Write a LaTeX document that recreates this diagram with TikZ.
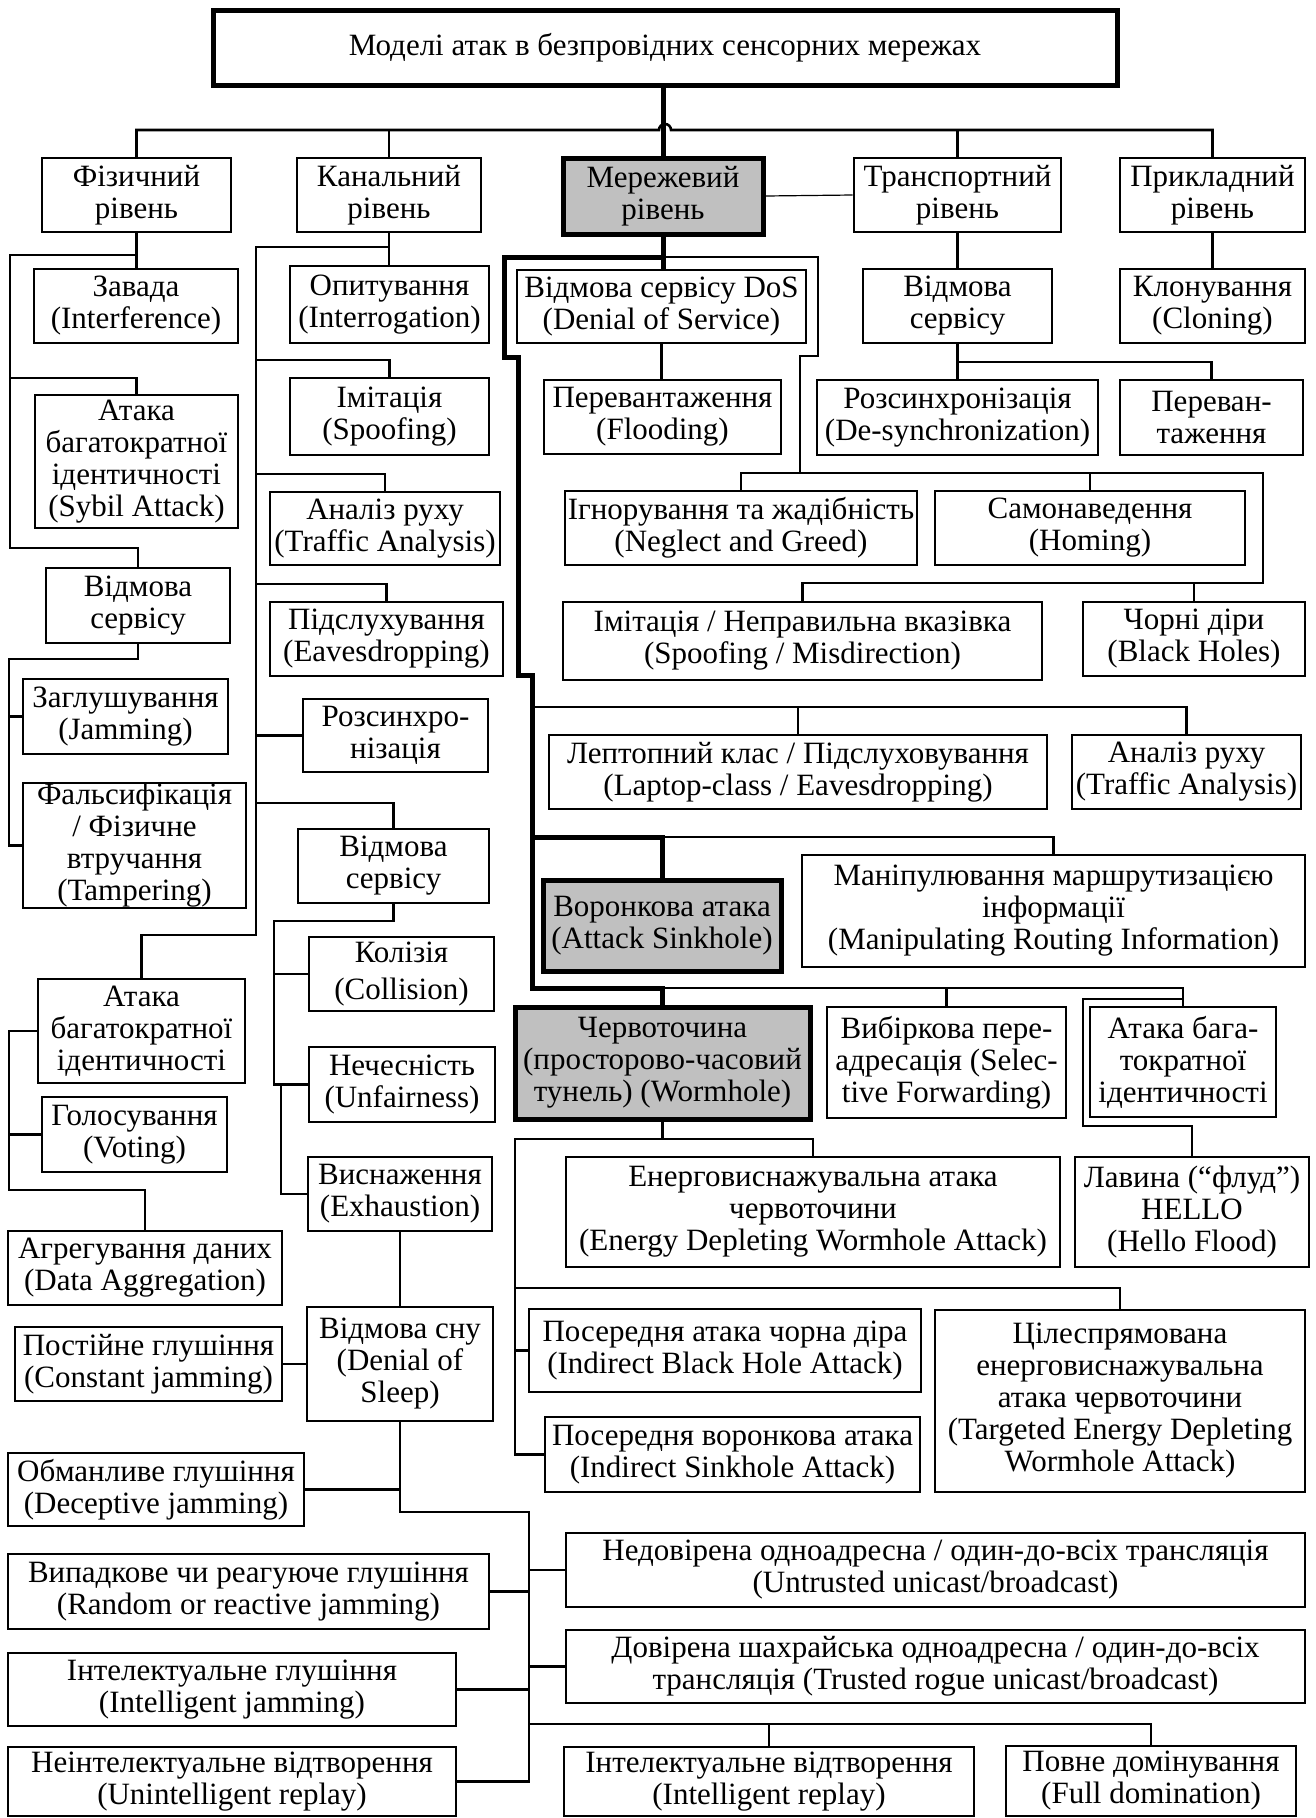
\documentclass[tikz,border=0pt]{standalone}
\usepackage{fontspec}
\setmainfont{Liberation Serif}
\definecolor{keygrey}{RGB}{192,192,192}
% box given by its corners (x1,y1) and (x2,y2); y grows downwards
\newcommand\boxnode[7][]{%
  \node[box,#1,minimum width={#5-#3},minimum height={#6-#4}] (#2) at ({(#3+#5)/2},{(#4+#6)/2}) {#7};}
\begin{document}
\begin{tikzpicture}[x=1pt,y=-1pt,
  box/.style={draw,line width=2.6pt,fill=white,align=center,inner sep=-4pt,
              font=\fontsize{31}{32}\selectfont},
  keybox/.style={line width=5pt,fill=keygrey},
  ln/.style={line width=2.6pt,line cap=rect},
  thk/.style={line width=5pt,line cap=rect},
  hair/.style={line width=1.2pt}]
\fill[white] (0,0) rectangle (1315,1818);
\useasboundingbox (0,0) rectangle (1315,1818);

% ---------- title and levels ----------
\boxnode[line width=5pt]{top}{213}{10}{1117}{85}{Моделі атак в безпровідних сенсорних мережах}
\boxnode{phys}{42}{158}{231}{232}{Фізичний\\рівень}
\boxnode{chan}{297}{158}{481}{232}{Канальний\\рівень}
\boxnode[keybox]{net}{563}{158}{763}{234}{Мережевий\\рівень}
\boxnode{trans}{854}{158}{1061}{232}{Транспортний\\рівень}
\boxnode{appl}{1120}{158}{1305}{232}{Прикладний\\рівень}

% ---------- physical layer ----------
\boxnode{zav}{34}{269}{238}{343}{Завада\\(Interference)}
\boxnode{sybil}{35}{395}{238}{528}{Атака\\багатократної\\ідентичності\\(Sybil Attack)}
\boxnode{physdos}{46}{568}{230}{643}{Відмова\\сервісу}
\boxnode{jam}{23}{679}{228}{754}{Заглушування\\(Jamming)}
\boxnode{tamper}{23}{783}{246}{908}{Фальсифікація\\/ Фізичне\\втручання\\(Tampering)}

% ---------- link layer ----------
\boxnode{interr}{290}{266}{489}{343}{Опитування\\(Interrogation)}
\boxnode{spoof}{290}{378}{489}{455}{Імітація\\(Spoofing)}
\boxnode{ta}{270}{492}{500}{565}{Аналіз руху\\(Traffic Analysis)}
\boxnode{eav}{270}{602}{503}{676}{Підслухування\\(Eavesdropping)}
\boxnode{desync}{303}{699}{488}{772}{Розсинхро-\\нізація}
\boxnode{chandos}{298}{829}{489}{903}{Відмова\\сервісу}
\boxnode{sybil2}{38}{979}{245}{1083}{Атака\\багатократної\\ідентичності}
\boxnode{vote}{42}{1097}{227}{1172}{Голосування\\(Voting)}
\boxnode{agg}{8}{1231}{282}{1305}{Агрегування даних\\(Data Aggregation)}
\boxnode{coll}{309}{937}{494}{1011}{Колізія\\[5pt](Collision)}
\boxnode{unf}{309}{1047}{495}{1122}{Нечесність\\(Unfairness)}
\boxnode{exh}{308}{1157}{492}{1231}{Виснаження\\(Exhaustion)}
\boxnode{dsleep}{307}{1307}{493}{1421}{Відмова сну\\(Denial of\\Sleep)}
\boxnode{const}{15}{1327}{282}{1401}{Постійне глушіння\\(Constant jamming)}
\boxnode{decep}{8}{1453}{304}{1526}{Обманливе глушіння\\(Deceptive jamming)}
\boxnode{rand}{8}{1554}{489}{1629}{Випадкове чи реагуюче глушіння\\(Random or reactive jamming)}
\boxnode{intj}{8}{1653}{456}{1726}{Інтелектуальне глушіння\\(Intelligent jamming)}
\boxnode{unint}{8}{1747}{456}{1816}{Неінтелектуальне відтворення\\(Unintelligent replay)}
\boxnode{untr}{566}{1533}{1305}{1607}{Недовірена одноадресна / один-до-всіх трансляція\\(Untrusted unicast/broadcast)}
\boxnode{trust}{566}{1630}{1305}{1703}{Довірена шахрайська одноадресна / один-до-всіх\\трансляція (Trusted rogue unicast/broadcast)}
\boxnode{intr}{564}{1747}{974}{1816}{Інтелектуальне відтворення\\(Intelligent replay)}
\boxnode{full}{1006}{1746}{1296}{1816}{Повне домінування\\(Full domination)}

% ---------- transport and application layers ----------
\boxnode{tdos}{863}{269}{1052}{343}{Відмова\\сервісу}
\boxnode{desyn2}{817}{380}{1098}{455}{Розсинхронізація\\(De-synchronization)}
\boxnode{over}{1120}{380}{1303}{455}{Переван-\\таження}
\boxnode{clone}{1120}{269}{1305}{343}{Клонування\\(Cloning)}

% ---------- network layer ----------
\boxnode{netdos}{517}{270}{806}{343}{Відмова сервісу DoS\\(Denial of Service)}
\boxnode{flood}{544}{380}{781}{454}{Перевантаження\\(Flooding)}
\boxnode{neg}{565}{491}{917}{565}{Ігнорування та жадібність\\(Neglect and Greed)}
\boxnode{hom}{935}{491}{1245}{565}{Самонаведення\\(Homing)}
\boxnode{misd}{563}{602}{1042}{680}{Імітація / Неправильна вказівка\\(Spoofing / Misdirection)}
\boxnode{bh}{1083}{602}{1305}{676}{Чорні діри\\(Black Holes)}
\boxnode{lap}{549}{735}{1047}{809}{Лептопний клас / Підслуховування\\(Laptop-class / Eavesdropping)}
\boxnode{ta2}{1072}{735}{1301}{809}{Аналіз руху\\(Traffic Analysis)}
\boxnode[keybox]{sink}{543}{880}{781}{971}{Воронкова атака\\(Attack Sinkhole)}
\boxnode{manip}{802}{855}{1305}{967}{Маніпулювання маршрутизацією\\інформації\\(Manipulating Routing Information)}
\boxnode[keybox]{worm}{515}{1007}{810}{1119}{Червоточина\\(просторово-часовий\\тунель) (Wormhole)}
\boxnode{sel}{827}{1007}{1066}{1118}{Вибіркова пере-\\адресація (Selec-\\tive Forwarding)}
\boxnode{mult3}{1090}{1007}{1276}{1117}{Атака бага-\\тократної\\ідентичності}
\boxnode{hello}{1075}{1157}{1309}{1267}{Лавина (“флуд”)\\HELLO\\(Hello Flood)}
\boxnode{edw}{566}{1157}{1060}{1267}{Енерговиснажувальна атака\\червоточини\\(Energy Depleting Wormhole Attack)}
\boxnode{ibh}{529}{1309}{921}{1392}{Посередня атака чорна діра\\(Indirect Black Hole Attack)}
\boxnode{isink}{545}{1417}{920}{1492}{Посередня воронкова атака\\(Indirect Sinkhole Attack)}
\boxnode{tedw}{935}{1310}{1305}{1492}{Цілеспрямована\\енерговиснажувальна\\атака червоточини\\(Targeted Energy Depleting\\Wormhole Attack)}

% ---------- connectors: levels ----------
\draw[ln] (phys.north) |- (659,130) arc[start angle=180,end angle=360,radius=6]
          -- (appl.north |- 0,130) -- (appl.north);
\draw[ln] (chan.north) -- (chan.north |- 0,130);
\draw[ln] (trans.north) -- (trans.north |- 0,130);
\draw[thk] (top.south -| net.north) -- (net.north);
\draw[hair] (net.east) -- (trans.west);

% physical layer
\draw[ln] (phys.south) -- (phys.south |- zav.north);
\draw[ln] (phys.south |- 0,255) -| (10,548) -| (physdos.north);
\draw[ln] (10,378) -| (sybil.north);
\draw[ln] (physdos.south) |- (9,659) |- (tamper.west);
\draw[ln] (jam.west -| 9,0) -- (jam.west);

% link layer
\draw[ln] (chan.south) -- (chan.south |- interr.north);
\draw[ln] (chan.south |- 0,247) -| (256,935) -| (sybil2.north);
\draw[ln] (256,360) -| (spoof.north);
\draw[ln] (256,474) -| (ta.north);
\draw[ln] (256,584) -| (eav.north);
\draw[ln] (desync.west -| 256,0) -- (desync.west);
\draw[ln] (256,803) -| (chandos.north);
\draw[ln] (sybil2.west) -| (9,1190) -| (agg.north);
\draw[ln] (vote.west -| 9,0) -- (vote.west);
\draw[ln] (chandos.south) |- (274,921) |- (unf.west);
\draw[ln] (coll.west -| 274,0) -- (coll.west);
\draw[ln] (281,0 |- unf.west) |- (exh.west);
\draw[ln] (exh.south) -- (exh.south |- dsleep.north);
\draw[ln] (const.east) -- (const.east -| dsleep.west);
\draw[ln] (dsleep.south) |- (529,1512) |- (unint.east);
\draw[ln] (decep.east) -- (decep.east -| dsleep.south);
\draw[ln] (untr.west -| 529,0) -- (untr.west);
\draw[ln] (rand.east) -- (rand.east -| 529,0);
\draw[ln] (trust.west -| 529,0) -- (trust.west);
\draw[ln] (intj.east) -- (intj.east -| 529,0);
\draw[ln] (529,1724) -| (full.north);
\draw[ln] (intr.north) -- (intr.north |- 0,1724);

% transport and application layers
\draw[ln] (trans.south) -- (trans.south |- tdos.north);
\draw[ln] (tdos.south) -- (tdos.south |- desyn2.north);
\draw[ln] (tdos.south |- 0,362) -| (over.north);
\draw[ln] (appl.south) -- (appl.south |- clone.north);

% network layer
\draw[thk] (net.south) -- (net.south |- netdos.north);
\draw[thk] (net.south |- 0,257) -- (504,257) -- (504,357) -- (518,357) -- (518,675)
           -- (532,675) -- (532,988) -| (worm.north);
\draw[thk] (532,837) -| (sink.north);
\draw[ln] (net.south |- 0,257) -- (818,257) -- (818,356) -- (800,356) -- (800,473);
\draw[ln] (netdos.south) -- (netdos.south |- flood.north);
\draw[ln] (neg.north) |- (1263,473) |- (misd.north |- 0,583) -- (misd.north);
\draw[ln] (hom.north) -- (hom.north |- 0,473);
\draw[ln] (bh.north) -- (bh.north |- 0,583);
\draw[ln] (532,707) -| (ta2.north);
\draw[ln] (lap.north) -- (lap.north |- 0,707);
\draw[ln] (sink.north |- 0,837) -| (manip.north);
\draw[ln] (worm.north |- 0,988) -| (mult3.north);
\draw[ln] (sel.north) -- (sel.north |- 0,988);
\draw[ln] (mult3.north |- 0,999) -| (1083,1126) -| (hello.north);
\draw[ln] (worm.south) -- (worm.south |- 0,1139);
\draw[ln] (edw.north) |- (515,1139) |- (isink.west);
\draw[ln] (515,1288) -| (tedw.north);
\draw[ln] (ibh.west -| 515,0) -- (ibh.west);
\end{tikzpicture}
\end{document}
